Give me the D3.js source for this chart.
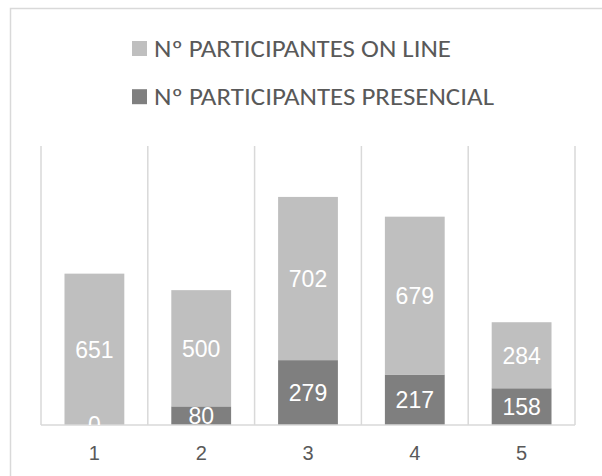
<!DOCTYPE html>
<html>
<head>
<meta charset="utf-8">
<script src="https://cdn.jsdelivr.net/npm/d3@7"></script>
<style>
  html, body { margin: 0; padding: 0; background: #fff; }
  svg { display: block; }
</style>
</head>
<body>
<svg id="chart" width="602" height="476"></svg>
<script>
const categories = ["1", "2", "3", "4", "5"];
const presencial = [0, 80, 279, 217, 158];
const online = [651, 500, 702, 679, 284];
const seriesNames = ["Nº PARTICIPANTES ON LINE", "Nº PARTICIPANTES PRESENCIAL"];
const seriesColors = ["#bfbfbf", "#7f7f7f"];
const yMax = 1200;

const svg = d3.select("#chart");
const plot = { left: 41, right: 575, top: 146, bottom: 425 };

// outer chart border
svg.append("rect")
  .attr("x", 10.5).attr("y", 8.5)
  .attr("width", 600).attr("height", 480)
  .attr("fill", "#fff").attr("stroke", "#d9d9d9").attr("stroke-width", 1.5);

const x = d3.scaleBand().domain(categories)
  .range([plot.left, plot.right]).paddingInner(0.44).paddingOuter(0.22);
const y = d3.scaleLinear().domain([0, yMax]).range([plot.bottom, plot.top]);

// vertical category gridlines
const step = x.step();
const bounds = categories.map(c => x(c) - (step - x.bandwidth()) / 2);
bounds.push(plot.right);
svg.append("g").selectAll("line").data(bounds).join("line")
  .attr("x1", d => d).attr("x2", d => d)
  .attr("y1", plot.top).attr("y2", plot.bottom)
  .attr("stroke", "#d9d9d9").attr("stroke-width", 1.5);

const data = categories.map((c, i) => ({ cat: c, presencial: presencial[i], online: online[i] }));
const stacked = d3.stack().keys(["presencial", "online"])(data);
const colorOf = { presencial: seriesColors[1], online: seriesColors[0] };

const gBars = svg.append("g");
stacked.forEach(layer => {
  gBars.append("g").attr("fill", colorOf[layer.key])
    .selectAll("rect").data(layer).join("rect")
    .attr("x", d => x(d.data.cat))
    .attr("width", x.bandwidth())
    .attr("y", d => y(d[1]))
    .attr("height", d => y(d[0]) - y(d[1]));
});

// x axis
const xAxis = d3.axisBottom(x).tickSize(0).tickPadding(0);
const gx = svg.append("g").attr("transform", `translate(0,${plot.bottom})`).call(xAxis);
gx.select(".domain").remove();
gx.selectAll("text")
  .attr("y", 28).attr("dy", "0.35em")
  .attr("fill", "#595959")
  .attr("font-family", "'Liberation Sans', Arial, sans-serif")
  .attr("font-size", 20);
svg.append("line")
  .attr("x1", plot.left).attr("x2", plot.right)
  .attr("y1", plot.bottom).attr("y2", plot.bottom)
  .attr("stroke", "#d9d9d9").attr("stroke-width", 1.5);

// data labels clipped to the plot area
svg.append("clipPath").attr("id", "plotclip")
  .append("rect").attr("x", plot.left).attr("y", plot.top)
  .attr("width", plot.right - plot.left).attr("height", plot.bottom - plot.top);
const gLab = svg.append("g").attr("clip-path", "url(#plotclip)");
stacked.forEach(layer => {
  gLab.append("g").selectAll("text").data(layer).join("text")
    .attr("x", d => x(d.data.cat) + x.bandwidth() / 2)
    .attr("y", d => (y(d[0]) + y(d[1])) / 2)
    .attr("dy", "0.36em")
    .attr("text-anchor", "middle")
    .attr("fill", "#ffffff")
    .attr("font-family", "'Liberation Sans', Arial, sans-serif")
    .attr("font-size", 23)
    .text(d => d.data[layer.key]);
});

// legend
const legendRows = [
  { name: seriesNames[0], color: seriesColors[0], cy: 48.5, len: 297 },
  { name: seriesNames[1], color: seriesColors[1], cy: 96.7, len: 340 }
];
const gLeg = svg.append("g");
legendRows.forEach(r => {
  gLeg.append("rect").attr("x", 132).attr("y", r.cy - 7.5)
    .attr("width", 15).attr("height", 15).attr("fill", r.color);
  gLeg.append("text").attr("x", 154).attr("y", r.cy).attr("dy", "0.35em")
    .attr("fill", "#595959")
    .attr("font-family", "Carlito, 'Liberation Sans Narrow', 'Open Sans', sans-serif")
    .attr("font-size", 24)
    .attr("textLength", r.len).attr("lengthAdjust", "spacingAndGlyphs")
    .text(r.name);
});
</script>
</body>
</html>
